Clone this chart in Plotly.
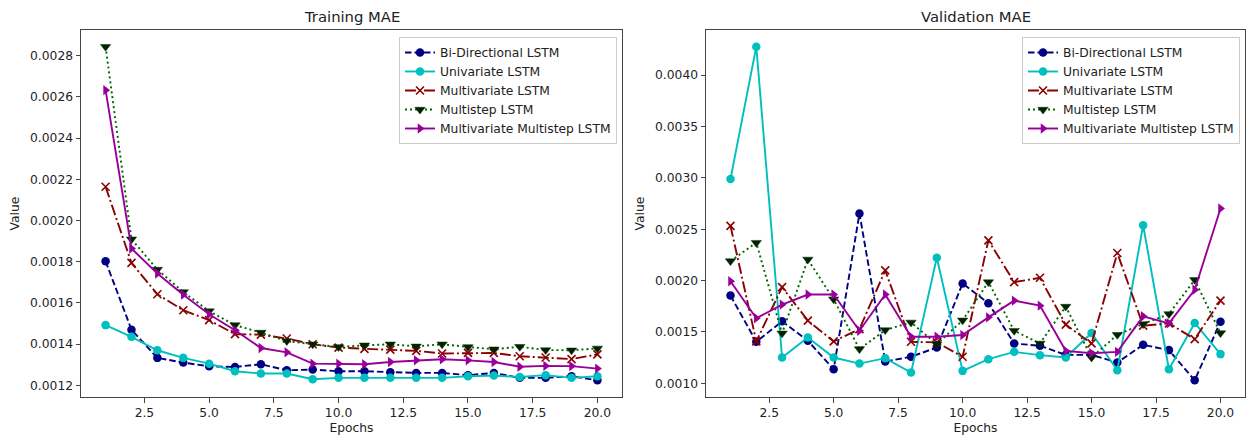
import plotly.graph_objects as go

epochs = list(range(1, 21))
series_names = ["Bi-Directional LSTM", "Univariate LSTM", "Multivariate LSTM",
                "Multistep LSTM", "Multivariate Multistep LSTM"]

train_bi = [0.001802, 0.001470, 0.001333, 0.001310, 0.001292, 0.001289, 0.001302, 0.001273, 0.001276, 0.001268,
            0.001268, 0.001263, 0.001260, 0.001260, 0.001249, 0.001260, 0.001236, 0.001236, 0.001244, 0.001224]
train_uni = [0.001492, 0.001435, 0.001370, 0.001333, 0.001305, 0.001268, 0.001257, 0.001257, 0.001229, 0.001236,
             0.001236, 0.001236, 0.001236, 0.001236, 0.001244, 0.001247, 0.001240, 0.001249, 0.001236, 0.001244]
train_multi = [0.002164, 0.001794, 0.001642, 0.001564, 0.001516, 0.001448, 0.001446, 0.001427, 0.001399, 0.001383,
               0.001377, 0.001373, 0.001367, 0.001354, 0.001357, 0.001357, 0.001341, 0.001335, 0.001327, 0.001350]
train_step = [0.002844, 0.001909, 0.001762, 0.001653, 0.001560, 0.001492, 0.001456, 0.001415, 0.001399, 0.001386,
              0.001394, 0.001399, 0.001389, 0.001399, 0.001386, 0.001375, 0.001387, 0.001371, 0.001370, 0.001379]
train_mm = [0.002633, 0.001864, 0.001743, 0.001640, 0.001545, 0.001467, 0.001381, 0.001360, 0.001305, 0.001305,
            0.001302, 0.001313, 0.001321, 0.001326, 0.001321, 0.001313, 0.001290, 0.001294, 0.001293, 0.001281]

val_bi = [0.001854, 0.001404, 0.001603, 0.001414, 0.001137, 0.002653, 0.001212, 0.001258, 0.001349, 0.001972,
          0.001779, 0.001388, 0.001365, 0.001277, 0.001277, 0.001202, 0.001375, 0.001323, 0.001029, 0.001600]
val_uni = [0.002989, 0.004277, 0.001251, 0.001447, 0.001251, 0.001192, 0.001245, 0.001104, 0.002223, 0.001121,
           0.001235, 0.001306, 0.001274, 0.001251, 0.001489, 0.001127, 0.002539, 0.001137, 0.001587, 0.001284]
val_multi = [0.002532, 0.001408, 0.001936, 0.001610, 0.001408, 0.001528, 0.002099, 0.001404, 0.001398, 0.001258,
             0.002392, 0.001985, 0.002027, 0.001571, 0.001388, 0.002268, 0.001561, 0.001584, 0.001430, 0.001805]
val_step = [0.002190, 0.002369, 0.001486, 0.002206, 0.001818, 0.001333, 0.001518, 0.001593, 0.001381, 0.001613,
            0.001985, 0.001512, 0.001388, 0.001747, 0.001251, 0.001473, 0.001577, 0.001675, 0.002007, 0.001489]
val_mm = [0.001994, 0.001633, 0.001766, 0.001864, 0.001864, 0.001512, 0.001864, 0.001453, 0.001453, 0.001470,
          0.001642, 0.001805, 0.001756, 0.001316, 0.001293, 0.001306, 0.001652, 0.001584, 0.001910, 0.002702]

train_ticks = [0.0012, 0.0014, 0.0016, 0.0018, 0.0020, 0.0022, 0.0024, 0.0026, 0.0028]
val_ticks = [0.0010, 0.0015, 0.0020, 0.0025, 0.0030, 0.0035, 0.0040]
x_ticks = [2.5, 5.0, 7.5, 10.0, 12.5, 15.0, 17.5, 20.0]

styles = [
    dict(color="#000080", dash="6.5px,3px", symbol="circle", msize=8.5),
    dict(color="#00BFBF", dash="solid", symbol="circle", msize=8.5),
    dict(color="#8B0000", dash="11px,3px,2px,3px", symbol="x-thin", msize=8),
    dict(color="#006400", dash="2px,3px", symbol="triangle-down", msize=9),
    dict(color="#990099", dash="solid", symbol="triangle-right", msize=9),
]

FONT = "DejaVu Sans, Verdana, sans-serif"
W, H = 1246, 439
fig = go.Figure()

def add_panel(data, xa, ya, legend):
    for name, ys, st in zip(series_names, data, styles):
        marker = dict(symbol=st["symbol"], size=st["msize"], color=st["color"])
        if st["symbol"] == "x-thin":
            marker["line"] = dict(color=st["color"], width=1.6)
        elif st["symbol"] == "triangle-down":
            marker["color"] = "#002200"
            marker["line"] = dict(color="#003300", width=0.5)
        fig.add_trace(go.Scatter(
            x=epochs, y=ys, name=name, mode="lines+markers",
            line=dict(color=st["color"], width=1.9, dash=st["dash"]),
            marker=marker, xaxis=xa, yaxis=ya, legend=legend,
        ))

add_panel([train_bi, train_uni, train_multi, train_step, train_mm], "x", "y", "legend")
add_panel([val_bi, val_uni, val_multi, val_step, val_mm], "x2", "y2", "legend2")

def mpl_range(vals, margin=0.05):
    lo, hi = min(vals), max(vals)
    d = (hi - lo) * margin
    return [lo - d, hi + d]

train_all = train_bi + train_uni + train_multi + train_step + train_mm
val_all = val_bi + val_uni + val_multi + val_step + val_mm

y_dom = [1 - 397 / H, 1 - 30 / H]
axis_common = dict(showline=True, mirror=True, linecolor="#444444", linewidth=1,
                   ticks="outside", ticklen=4.5, tickwidth=1, tickcolor="#444444",
                   showgrid=False, zeroline=False,
                   tickfont=dict(family=FONT, size=12.3, color="#222222"))

fig.update_layout(
    width=W, height=H, margin=dict(l=0, r=0, t=0, b=0),
    paper_bgcolor="white", plot_bgcolor="white",
    font=dict(family=FONT, size=12.3, color="#222222"),
    xaxis=dict(domain=[81 / W, 622 / W], anchor="y", range=mpl_range(epochs),
               tickvals=x_ticks, ticktext=[f"{t:.1f}" for t in x_ticks],
               title=dict(text="Epochs", standoff=4, font=dict(family=FONT, size=12.3)), **axis_common),
    yaxis=dict(domain=y_dom, anchor="x", range=mpl_range(train_all),
               tickvals=train_ticks, ticktext=[f"{t:.4f}" for t in train_ticks],
               title=dict(text="Value", standoff=7, font=dict(family=FONT, size=12.3)), **axis_common),
    xaxis2=dict(domain=[706 / W, 1245 / W], anchor="y2", range=mpl_range(epochs),
                tickvals=x_ticks, ticktext=[f"{t:.1f}" for t in x_ticks],
                title=dict(text="Epochs", standoff=4, font=dict(family=FONT, size=12.3)), **axis_common),
    yaxis2=dict(domain=y_dom, anchor="x2", range=mpl_range(val_all),
                tickvals=val_ticks, ticktext=[f"{t:.4f}" for t in val_ticks],
                title=dict(text="Value", standoff=7, font=dict(family=FONT, size=12.3)), **axis_common),
    legend=dict(x=617 / W, xanchor="right", y=1 - 37 / H, yanchor="top",
                bgcolor="rgba(255,255,255,0.85)", bordercolor="#cccccc", borderwidth=1,
                font=dict(family=FONT, size=12.3, color="#222222"), itemwidth=30,
                tracegroupgap=0),
    legend2=dict(x=1240 / W, xanchor="right", y=1 - 37 / H, yanchor="top",
                 bgcolor="rgba(255,255,255,0.85)", bordercolor="#cccccc", borderwidth=1,
                 font=dict(family=FONT, size=12.3, color="#222222"), itemwidth=30,
                 tracegroupgap=0),
    annotations=[
        dict(text="Training MAE", x=0.5, xref="x domain", y=1 - 16.5 / H, yref="paper",
             xanchor="center", yanchor="middle", showarrow=False,
             font=dict(family=FONT, size=14.8, color="#222222")),
        dict(text="Validation MAE", x=0.5, xref="x2 domain", y=1 - 16.5 / H, yref="paper",
             xanchor="center", yanchor="middle", showarrow=False,
             font=dict(family=FONT, size=14.8, color="#222222")),
    ],
)

fig.write_html("out.html")
